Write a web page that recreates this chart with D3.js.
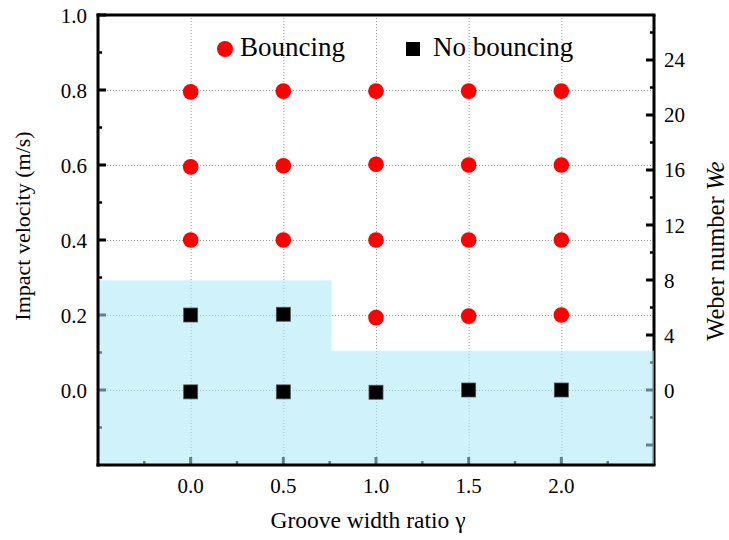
<!DOCTYPE html>
<html><head><meta charset="utf-8">
<script src="https://cdn.jsdelivr.net/npm/d3@7"></script>
<style>body{margin:0;background:#fff}svg{display:block}</style>
</head><body><svg id="c" width="729" height="540" font-family="'Liberation Serif', 'Times New Roman', Times, serif"></svg>
<script>
// ---- data ----
const bounceX = [0,0,0, 0.5,0.5,0.5, 1,1,1,1, 1.5,1.5,1.5,1.5, 2,2,2,2];
const bounceV = [0.795,0.595,0.400, 0.797,0.598,0.400, 0.797,0.602,0.400,0.193, 0.797,0.600,0.400,0.197, 0.797,0.600,0.400,0.200];
const noBounceX = [0,0.5,0,0.5,1,1.5,2];
const noBounceV = [0.200,0.202,-0.005,-0.005,-0.006,0.000,0.000];
const xTicks = [0,0.5,1,1.5,2];
const xTickLabels = ["0.0","0.5","1.0","1.5","2.0"];
const yTicks = [0,0.2,0.4,0.6,0.8,1.0];
const yTickLabels = ["0.0","0.2","0.4","0.6","0.8","1.0"];
const weTicks = [0,4,8,12,16,20,24];
const weTickLabels = ["0","4","8","12","16","20","24"];
const shadeStepX = [-0.5,0.76,2.5];     // step edges
const shadeStepTop = [0.293,0.105];     // velocity tops of each step
const legendLabels = ["Bouncing","No bouncing"];
const xTitle = "Groove width ratio γ";
const yTitle = "Impact velocity (m/s)";

// ---- layout ----
const L=98, R=654, T=15, B=465;
const FF = "'Liberation Serif', 'Times New Roman', Times, serif";
const svg = d3.select("#c");
const x = d3.scaleLinear().domain([-0.5,2.5]).range([L,R]);
const y = d3.scaleLinear().domain([-0.2,1.0]).range([B,T]);
const we = d3.scaleLinear().domain([-5.4545,27.2727]).range([B,T]);

// grid
const g = svg.append("g").attr("stroke","#9a9a9a").attr("stroke-width",1).attr("stroke-dasharray","1,2");
xTicks.forEach(v=>g.append("line").attr("x1",x(v)+0.5).attr("x2",x(v)+0.5).attr("y1",T).attr("y2",B));
yTicks.filter(v=>v<1).forEach(v=>g.append("line").attr("x1",L).attr("x2",R).attr("y1",y(v)+0.5).attr("y2",y(v)+0.5));

// ticks (inward)
const tk = svg.append("g").attr("stroke","#000");
const yMinor = d3.range(-0.1,1.0,0.2);
yTicks.forEach(v=>tk.append("line").attr("x1",L).attr("x2",L+8).attr("y1",y(v)).attr("y2",y(v)).attr("stroke-width",3));
yMinor.forEach(v=>tk.append("line").attr("x1",L).attr("x2",L+4).attr("y1",y(v)).attr("y2",y(v)).attr("stroke-width",2.5));
const xMinor = d3.range(-0.25,2.5,0.5);
xTicks.forEach(v=>tk.append("line").attr("x1",x(v)).attr("x2",x(v)).attr("y1",B).attr("y2",B-8).attr("stroke-width",3));
xMinor.forEach(v=>tk.append("line").attr("x1",x(v)).attr("x2",x(v)).attr("y1",B).attr("y2",B-4).attr("stroke-width",2.5));
const weMajor = d3.range(-4,25,4), weMinor = d3.range(-2,27,4);
weMajor.forEach(v=>tk.append("line").attr("x1",R).attr("x2",R-8).attr("y1",we(v)).attr("y2",we(v)).attr("stroke-width",3));
weMinor.forEach(v=>tk.append("line").attr("x1",R).attr("x2",R-4).attr("y1",we(v)).attr("y2",we(v)).attr("stroke-width",2.5));
// right frame line (under shading)
svg.append("line").attr("x1",R).attr("x2",R).attr("y1",T).attr("y2",B).attr("stroke","#000").attr("stroke-width",3);

// shading
const pts = [[shadeStepX[0],-0.2],[shadeStepX[0],shadeStepTop[0]],[shadeStepX[1],shadeStepTop[0]],[shadeStepX[1],shadeStepTop[1]],[shadeStepX[2],shadeStepTop[1]],[shadeStepX[2],-0.2]];
svg.append("path").attr("d",d3.line().x(d=>x(d[0])).y(d=>y(d[1]))(pts)+"Z")
  .attr("fill","rgb(170,232,248)").attr("fill-opacity",0.56);

// frame
const fr = svg.append("g").attr("stroke","#000").attr("stroke-width",3).attr("stroke-linecap","square");
fr.append("line").attr("x1",L).attr("x2",L).attr("y1",T).attr("y2",B);
fr.append("line").attr("x1",L).attr("x2",R).attr("y1",T).attr("y2",T);
fr.append("line").attr("x1",L).attr("x2",R).attr("y1",B).attr("y2",B);

// points
svg.append("g").selectAll("circle").data(bounceX).join("circle")
  .attr("cx",(d)=>x(d)).attr("cy",(d,i)=>y(bounceV[i])).attr("r",7.8).attr("fill","#ff0000");
const s=14;
svg.append("g").selectAll("rect").data(noBounceX).join("rect")
  .attr("x",d=>x(d)-s/2).attr("y",(d,i)=>y(noBounceV[i])-s/2).attr("width",s).attr("height",s)
  .attr("fill","#000").attr("stroke","#555").attr("stroke-width",0.8);

// tick labels
const fs=21;
const txt = (sel)=>sel.attr("font-family",FF).attr("fill","#000");
svg.append("g").selectAll("text").data(yTicks).join("text").call(txt)
  .attr("x",L-11).attr("y",d=>y(d)+7.5).attr("text-anchor","end").attr("font-size",fs).text((d,i)=>yTickLabels[i]);
svg.append("g").selectAll("text").data(xTicks).join("text").call(txt)
  .attr("x",d=>x(d)).attr("y",B+28).attr("text-anchor","middle").attr("font-size",fs).text((d,i)=>xTickLabels[i]);
svg.append("g").selectAll("text").data(weTicks).join("text").call(txt)
  .attr("x",R+10).attr("y",d=>we(d)+7.5).attr("text-anchor","start").attr("font-size",fs).text((d,i)=>weTickLabels[i]);

// titles
svg.append("text").call(txt).attr("x",(L+R)/2-8).attr("y",528).attr("text-anchor","middle").attr("font-size",23.5).text(xTitle);
svg.append("text").call(txt).attr("transform","translate(30,226) rotate(-90)").attr("text-anchor","middle").attr("font-size",22).text(yTitle);
const wt = svg.append("text").call(txt).attr("transform","translate(724,251) rotate(-90)").attr("text-anchor","middle").attr("font-size",24.5);
wt.append("tspan").text("Weber number ");
wt.append("tspan").attr("font-style","italic").text("We");

// legend
svg.append("circle").attr("cx",225).attr("cy",49).attr("r",8).attr("fill","#ff0000");
svg.append("text").call(txt).attr("x",240).attr("y",56).attr("font-size",27).text(legendLabels[0]);
svg.append("rect").attr("x",406).attr("y",42).attr("width",14).attr("height",14).attr("fill","#000");
svg.append("text").call(txt).attr("x",433).attr("y",56).attr("font-size",27).text(legendLabels[1]);
</script></body></html>
